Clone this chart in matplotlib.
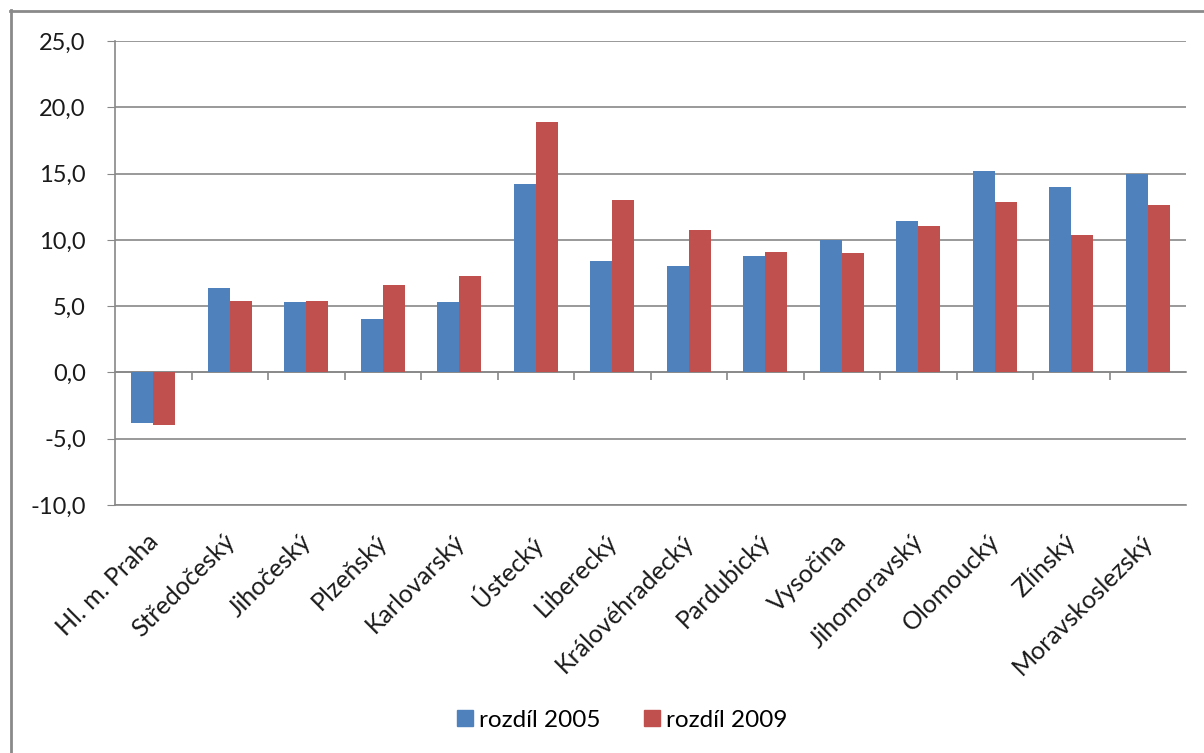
import numpy as np
import matplotlib
matplotlib.use('Agg')
import matplotlib.pyplot as plt
import matplotlib.transforms as mtransforms
from matplotlib.lines import Line2D
from matplotlib.ticker import FuncFormatter

kraje = ['Hl. m. Praha', 'Středočeský', 'Jihočeský', 'Plzeňský', 'Karlovarský',
         'Ústecký', 'Liberecký', 'Královéhradecký', 'Pardubický', 'Vysočina',
         'Jihomoravský', 'Olomoucký', 'Zlínský', 'Moravskoslezský']
rozdil_2005 = [-3.8, 6.4, 5.3, 4.0, 5.3, 14.2, 8.4, 8.0, 8.8, 10.0, 11.4, 15.2, 14.0, 15.0]
rozdil_2009 = [-4.0, 5.4, 5.4, 6.6, 7.3, 18.9, 13.0, 10.75, 9.1, 9.0, 11.05, 12.85, 10.4, 12.6]
y_ticks = [-10, -5, 0, 5, 10, 15, 20, 25]

plt.rcParams['font.family'] = ['Lato', 'DejaVu Sans']
grid_col = '#888888'
blue = '#4F81BD'
red = '#C0504D'

fig = plt.figure(figsize=(12.04, 7.53), dpi=100)
W, H = 1204, 753
ax = fig.add_axes([115 / W, 1 - 505 / H, (1186 - 115) / W, (505 - 41) / H])

x = np.arange(len(kraje))
bw = 0.29
ax.bar(x - bw / 2, rozdil_2005, bw, color=blue, label='rozdíl 2005', zorder=3)
ax.bar(x + bw / 2, rozdil_2009, bw, color=red, label='rozdíl 2009', zorder=3)

ax.set_xlim(-0.5, len(kraje) - 0.5)
ax.set_ylim(-10, 25)
ax.set_yticks(y_ticks)
ax.yaxis.set_major_formatter(FuncFormatter(lambda v, p: f'{v:.1f}'.replace('.', ',')))
ax.grid(axis='y', color=grid_col, linewidth=1.2, zorder=0)
ax.tick_params(axis='y', length=6, color=grid_col, pad=15, labelsize=17, labelcolor='#1a1a1a')

for s in ['top', 'right']:
    ax.spines[s].set_visible(False)
ax.spines['left'].set_color(grid_col)
ax.spines['bottom'].set_color(grid_col)
ax.spines['left'].set_linewidth(1.2)
ax.spines['bottom'].set_linewidth(1.2)

ax.set_xticks(x)
ax.set_xticklabels(kraje, rotation=45, ha='right', rotation_mode='anchor',
                   fontsize=18, color='#1a1a1a')
ax.tick_params(axis='x', length=0, pad=18)
shift = mtransforms.ScaledTranslation(-7 / 100, 0, fig.dpi_scale_trans)
for lbl in ax.get_xticklabels():
    lbl.set_transform(lbl.get_transform() + shift)

# category axis crossing at zero, ticks between groups
zero_ax = ax.secondary_xaxis(10 / 35)
zero_ax.set_xticks(np.arange(0.5, len(kraje) - 0.5, 1.0))
zero_ax.set_xticklabels([])
zero_ax.tick_params(length=6, color=grid_col, width=1.2)
zero_ax.spines['bottom'].set_color(grid_col)
zero_ax.spines['bottom'].set_linewidth(1.2)

handles = [Line2D([], [], marker='s', linestyle='', markersize=12, color=blue),
           Line2D([], [], marker='s', linestyle='', markersize=12, color=red)]
fig.legend(handles, ['rozdíl 2005', 'rozdíl 2009'], loc='center',
           bbox_to_anchor=(620 / W, 1 - 720 / H), ncol=2, frameon=False,
           fontsize=17.5, handletextpad=0.1, columnspacing=1.6, handlelength=1.0)

# chart border (left and top edges visible)
fig.add_artist(Line2D([11 / W, 11 / W], [0, 1 - 10 / H], color='#8a8a8a', linewidth=2))
fig.add_artist(Line2D([10 / W, 1], [1 - 11 / H, 1 - 11 / H], color='#8a8a8a', linewidth=2))

fig.savefig('out.png', dpi=100)
